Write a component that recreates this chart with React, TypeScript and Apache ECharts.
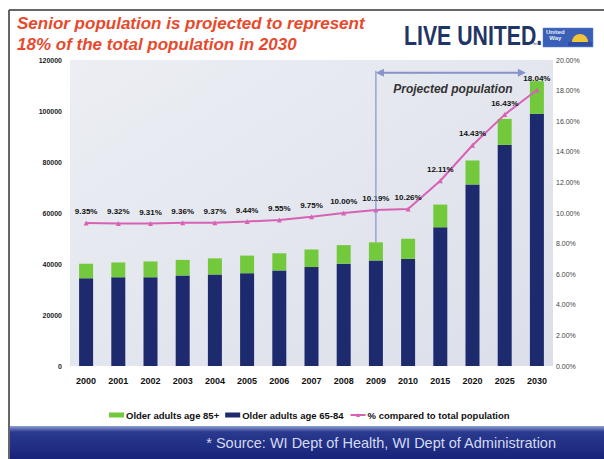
import React, { useEffect, useRef } from "react";
import * as echarts from "echarts";

const years = ["2000", "2001", "2002", "2003", "2004", "2005", "2006", "2007", "2008", "2009", "2010", "2015", "2020", "2025", "2030"];
const age6584 = [34400, 34800, 34800, 35500, 35900, 36400, 37500, 38800, 40100, 41400, 42000, 54400, 71200, 86700, 98900];
const age85 = [5700, 5800, 6200, 6100, 6300, 6900, 6700, 6900, 7300, 7100, 7900, 8900, 9400, 10200, 12800];
const pctTotal = [9.35, 9.32, 9.31, 9.36, 9.37, 9.44, 9.55, 9.75, 10.0, 10.19, 10.26, 12.11, 14.43, 16.43, 18.04];
const leftTicks = { min: 0, max: 120000, interval: 20000 };
const rightTicks = { min: 0, max: 20, interval: 2 };
const projectedStart = "2009";
const projectedEnd = "2030";
const projectedArrowValue = 115000;

const FONT = '"Liberation Sans", Arial, sans-serif';

export default function App() {
  const ref = useRef<HTMLDivElement>(null);
  useEffect(() => {
    const chart = echarts.init(ref.current!, null, { renderer: "svg" });
    const option: any = {
      animation: false,
      backgroundColor: "#ffffff",
      textStyle: { fontFamily: FONT },
      grid: {
        left: 70,
        right: 51,
        top: 60,
        bottom: 93,
        show: true,
        borderWidth: 0,
        backgroundColor: {
          type: "linear", x: 0, y: 0, x2: 1, y2: 1,
          colorStops: [
            { offset: 0, color: "#eceef4" },
            { offset: 1, color: "#dcdfe9" },
          ],
        },
      },
      legend: {
        left: 104,
        top: 405,
        itemWidth: 15,
        itemHeight: 5,
        itemGap: 6,
        data: [
          { name: "Older adults age 85+", icon: "rect" },
          { name: "Older adults age 65-84", icon: "rect" },
          { name: "% compared to total population" },
        ],
        textStyle: { fontFamily: FONT, fontSize: 9.5, fontWeight: "bold", color: "#111", padding: [0, 0, 0, -3] },
      },
      xAxis: {
        type: "category",
        data: years,
        axisLine: { show: false },
        axisTick: { show: false },
        axisLabel: { fontFamily: FONT, fontSize: 9, fontWeight: "bold", color: "#111", margin: 10 },
      },
      yAxis: [
        {
          type: "value",
          ...leftTicks,
          splitLine: { show: false },
          axisLine: { show: false },
          axisTick: { show: false },
          axisLabel: {
            fontFamily: FONT, fontSize: 7, fontWeight: "bold", color: "#222", margin: 8,
            formatter: (v: number) => String(v),
          },
        },
        {
          type: "value",
          ...rightTicks,
          splitLine: { show: false },
          axisLine: { show: false },
          axisTick: { show: false },
          axisLabel: {
            fontFamily: FONT, fontSize: 7, color: "#444", margin: 3,
            formatter: (v: number) => v.toFixed(2) + "%",
          },
        },
      ],
      series: [
        {
          name: "Older adults age 65-84",
          type: "bar",
          stack: "pop",
          barWidth: 14,
          data: age6584,
          itemStyle: { color: "#1d2a6d" },
        },
        {
          name: "Older adults age 85+",
          type: "bar",
          stack: "pop",
          barWidth: 14,
          data: age85,
          itemStyle: { color: "#72c93c" },
        },
        {
          name: "% compared to total population",
          type: "line",
          yAxisIndex: 1,
          data: pctTotal,
          z: 5,
          symbol: "triangle",
          symbolSize: 5,
          lineStyle: { color: "#d762b4", width: 2 },
          itemStyle: { color: "#d762b4" },
          label: {
            show: true,
            position: "top",
            distance: 5,
            fontFamily: FONT,
            fontSize: 8,
            fontWeight: "bold",
            color: "#111",
            formatter: (p: any) => Number(p.value).toFixed(2) + "%",
          },
        },
      ],
    };
    chart.setOption(option);

    const pStart = chart.convertToPixel({ gridIndex: 0 }, [projectedStart, projectedArrowValue]) as number[];
    const pEnd = chart.convertToPixel({ gridIndex: 0 }, [projectedEnd, projectedArrowValue]) as number[];
    const i09 = years.indexOf(projectedStart);
    const pBar = chart.convertToPixel({ gridIndex: 0 }, [projectedStart, age6584[i09] + age85[i09]]) as number[];
    const arrowColor = "#8593c9";
    const ax0 = pStart[0];
    const ax1 = pEnd[0] - 11;
    const ay = pStart[1];

    chart.setOption({
      graphic: [
        // slide border
        { type: "line", shape: { x1: 9, y1: 10, x2: 604, y2: 10 }, style: { stroke: "#333", lineWidth: 1.5 } },
        { type: "line", shape: { x1: 9, y1: 10, x2: 9, y2: 459 }, style: { stroke: "#333", lineWidth: 1.5 } },
        // title
        {
          type: "text", left: 17, top: 15,
          style: { text: "Senior population is projected to represent", font: `italic bold 17px ${FONT}`, fill: "#e8492c" },
        },
        {
          type: "text", left: 17, top: 36,
          style: { text: "18% of the total population in 2030", font: `italic bold 17px ${FONT}`, fill: "#e8492c" },
        },
        // LIVE UNITED logo
        {
          type: "text", x: 404, y: 21, scaleX: 0.76,
          style: { text: "LIVE UNITED.", font: `bold 28px ${FONT}`, fill: "#1f3566" },
        },
        { type: "text", x: 532, y: 41, style: { text: "™", font: `5px ${FONT}`, fill: "#1f3566" } },
        {
          type: "rect", shape: { x: 543, y: 28, width: 50, height: 19 },
          style: { fill: "#3a5fb6", stroke: "#5a7cc8", lineWidth: 0.5 },
        },
        { type: "text", x: 546, y: 29, style: { text: "United\n  Way", font: `bold 6px ${FONT}`, fill: "#e6ecf8", lineHeight: 6 } },
        { type: "sector", shape: { cx: 580, cy: 42, r0: 0, r: 8, startAngle: Math.PI, endAngle: 2 * Math.PI }, style: { fill: "#f2c43a" } },
        { type: "rect", shape: { x: 568, y: 42, width: 24, height: 4 }, style: { fill: "#2d4fa3" } },
        // projected population annotation
        { type: "line", z: 10, shape: { x1: ax0, y1: ay - 2, x2: pBar[0], y2: pBar[1] }, style: { stroke: arrowColor, lineWidth: 1.2 } },
        { type: "line", z: 10, shape: { x1: ax0 + 4, y1: ay, x2: ax1 - 4, y2: ay }, style: { stroke: arrowColor, lineWidth: 2 } },
        { type: "polygon", z: 10, shape: { points: [[ax0, ay], [ax0 + 8, ay - 4], [ax0 + 8, ay + 4]] }, style: { fill: arrowColor } },
        { type: "polygon", z: 10, shape: { points: [[ax1, ay], [ax1 - 8, ay - 4], [ax1 - 8, ay + 4]] }, style: { fill: arrowColor } },
        {
          type: "text", z: 10, x: (ax0 + ax1) / 2 + 2, y: ay + 16,
          style: { text: "Projected population", font: `italic bold 12px ${FONT}`, fill: "#333", align: "center", verticalAlign: "middle" },
        },
        // footer band
        {
          type: "rect", z: 0, shape: { x: 10, y: 426, width: 594, height: 33 },
          style: {
            fill: {
              type: "linear", x: 0, y: 0, x2: 0, y2: 1,
              colorStops: [
                { offset: 0, color: "#8fa0d8" },
                { offset: 0.18, color: "#2a3a8e" },
                { offset: 1, color: "#17237a" },
              ],
            },
          },
        },
        {
          type: "text", z: 1, x: 556, y: 443,
          style: { text: "* Source: WI Dept of Health, WI Dept of Administration", font: `14.5px ${FONT}`, fill: "#d4daf0", align: "right", verticalAlign: "middle" },
        },
      ],
    });

    return () => chart.dispose();
  }, []);
  return <div ref={ref} style={{ position: "fixed", left: 0, top: 0, width: 604, height: 459 }} />;
}
